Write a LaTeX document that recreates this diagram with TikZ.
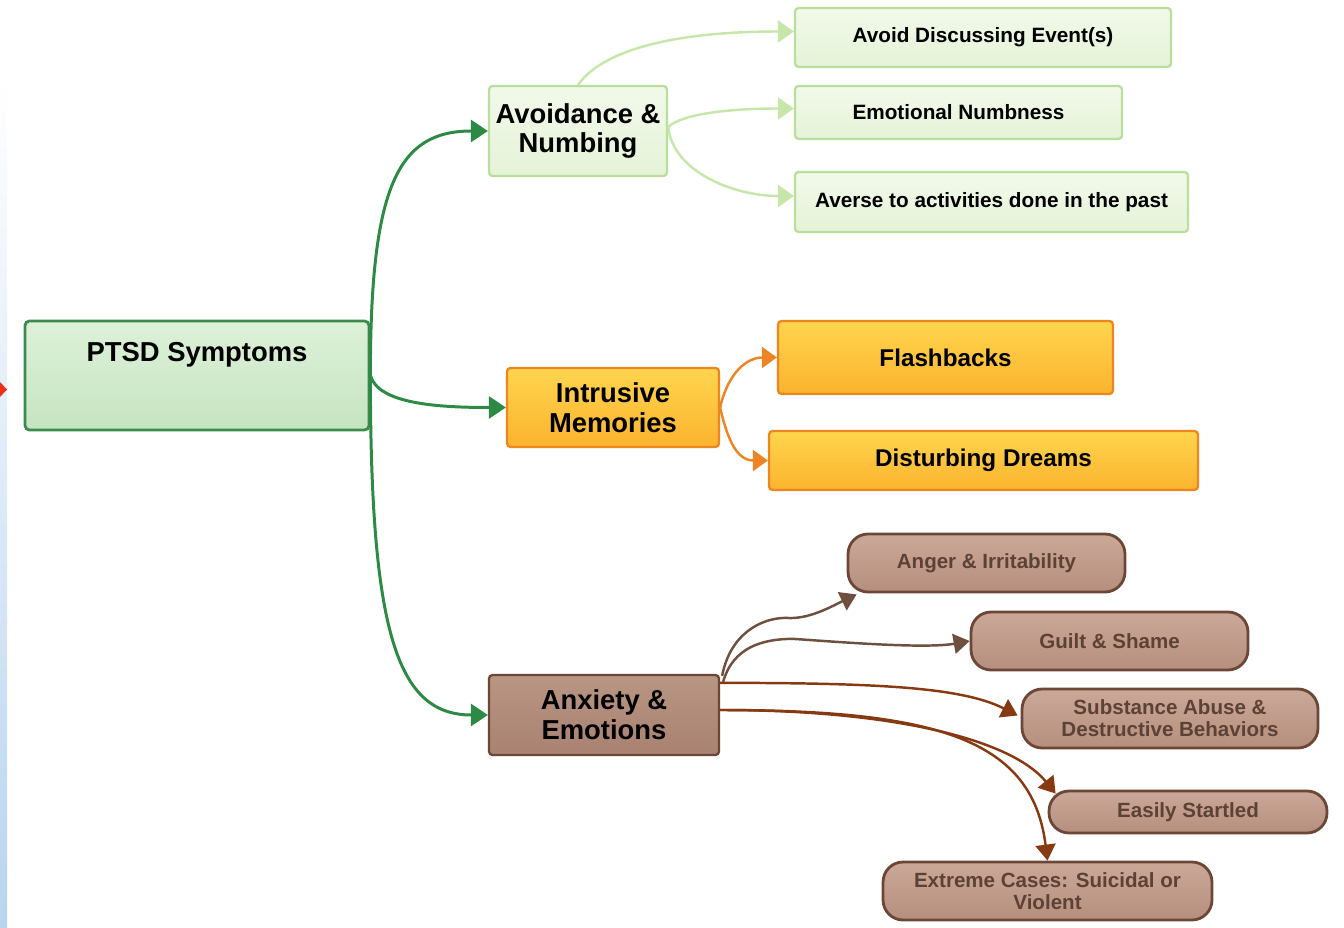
\documentclass[tikz,border=0pt]{standalone}
\usepackage{tikz}
\usetikzlibrary{arrows.meta}
\usetikzlibrary{calc}
\usepackage{xcolor}
\usepackage{fontspec}
\setmainfont{Liberation Sans}

\definecolor{rootgreen}{HTML}{3C8A4E}
\definecolor{rootfilltop}{HTML}{DDF1D8}
\definecolor{rootfillbot}{HTML}{C6E4C1}
\definecolor{greenline}{HTML}{2C8A44}
\definecolor{paleborder}{HTML}{BADF9C}
\definecolor{palefilltop}{HTML}{F2F9EA}
\definecolor{palefillbot}{HTML}{E5F3D8}
\definecolor{paleline}{HTML}{C6E7A9}
\definecolor{orangeborder}{HTML}{EF851F}
\definecolor{orangetop}{HTML}{FFD54E}
\definecolor{orangebot}{HTML}{FBB32E}
\definecolor{orangeline}{HTML}{EE8424}
\definecolor{brownborder}{HTML}{6C4636}
\definecolor{browntop}{HTML}{CAA898}
\definecolor{brownbot}{HTML}{B68F7E}
\definecolor{anxtop}{HTML}{B99584}
\definecolor{anxbot}{HTML}{A98271}
\definecolor{brownline}{HTML}{6F4F3D}
\definecolor{rustline}{HTML}{873A12}
\definecolor{browntext}{HTML}{5C4236}
\definecolor{stripblue}{HTML}{B9D4EE}
\definecolor{stripred}{HTML}{E8301A}

\begin{document}
\begin{tikzpicture}[x=0.02cm, y=0.02cm]
        % ================= styles =================
        \tikzset{
            % big heading boxes
            mainfont/.style={font=\fontsize{15.6}{17}\selectfont\bfseries},
            rootbox/.style={draw=rootgreen, line width=1.6pt, rounded corners=2.5pt, top color=rootfilltop, bottom color=rootfillbot},
            avoidbox/.style={mainfont, align=center, inner xsep=1pt, draw=paleborder, line width=1.3pt, rounded corners=2pt, top color=palefilltop, bottom color=palefillbot},
            intrbox/.style={mainfont, align=center, inner xsep=1pt, draw=orangeborder, line width=1.3pt, rounded corners=2pt, top color=orangetop, bottom color=orangebot},
            anxbox/.style={mainfont, align=center, inner xsep=1pt, draw=brownborder, line width=1.3pt, rounded corners=2pt, top color=anxtop, bottom color=anxbot},
            % leaves
            paleleaf/.style={font=\fontsize{11.8}{13}\selectfont\bfseries, draw=paleborder, line width=1.3pt, rounded corners=2pt, top color=palefilltop, bottom color=palefillbot},
            orangeleaf/.style={font=\fontsize{13.8}{15}\selectfont\bfseries, draw=orangeborder, line width=1.3pt, rounded corners=2pt, top color=orangetop, bottom color=orangebot},
            brownleaf/.style={font=\fontsize{11.7}{12.5}\selectfont\bfseries, text=browntext, align=center, draw=brownborder, line width=1.6pt, rounded corners=0.4cm, top color=browntop, bottom color=brownbot},
            % links
            rootlink/.style={draw=greenline, line width=1.7pt, -{Triangle[length=0.34cm, width=0.44cm]}},
            palelink/.style={draw=paleline, line width=1.4pt, -{Triangle[length=0.32cm, width=0.44cm]}},
            orangelink/.style={draw=orangeline, line width=1.4pt, -{Triangle[length=0.3cm, width=0.42cm]}},
            brownlink/.style={draw=brownline, line width=1.4pt, -{Triangle[length=0.32cm, width=0.4cm]}},
            rustlink/.style={draw=rustline, line width=1.4pt, -{Triangle[length=0.32cm, width=0.4cm]}}
        }

        \useasboundingbox (0,0) rectangle (1344,-928);

        % ================= left window edge =================
        \shade[top color=white, bottom color=stripblue] (0,-80) rectangle (7,-928);
        \fill[stripred] (0,-382) -- (7,-389.5) -- (0,-397) -- cycle;

        % ================= root =================
        \node[rootbox, minimum width=6.88cm, minimum height=2.18cm,
              label={[mainfont, anchor=north, yshift=-0.34cm]north:PTSD Symptoms}] (ptsd) at (197,-375.5) {};

        % ================= three branches =================
        \node[avoidbox, minimum width=3.56cm, minimum height=1.8cm] (avoid) at (578,-131) {Avoidance \&\\Numbing};
        \node[intrbox, minimum width=4.24cm, minimum height=1.58cm] (intr) at (613,-407.5) {Intrusive\\Memories};
        \node[anxbox, minimum width=4.6cm, minimum height=1.6cm] (anx) at (604,-715) {Anxiety \&\\Emotions};

        \draw[rootlink] (ptsd.east) .. controls +(0,190) and +(-90,0) .. (avoid.west);
        \draw[rootlink] (ptsd.east) .. controls +(8,-28) and +(-70,0) .. (intr.west);
        \draw[rootlink] (ptsd.east) .. controls +(0,-260) and +(-90,0) .. (anx.west);

        % ================= avoidance & numbing =================
        \node[paleleaf, minimum width=7.52cm, minimum height=1.18cm] (discuss) at (983,-37.5) {Avoid Discussing Event(s)};
        \node[paleleaf, minimum width=6.54cm, minimum height=1.06cm] (numb) at (958.5,-112.5) {Emotional Numbness};
        \node[paleleaf, minimum width=7.86cm, minimum height=1.2cm] (averse) at (991.5,-202) {Averse to activities done in the past};

        \draw[palelink] (avoid.north) .. controls +(25,35) and +(-120,0) .. ($(discuss.west)+(0,6)$);
        \draw[palelink] ($(avoid.east)+(0,4)$) .. controls +(15,14) and +(-60,0) .. ($(numb.west)+(0,4)$);
        \draw[palelink] ($(avoid.east)+(0,4)$) .. controls +(5,-45) and +(-60,0) .. ($(averse.west)+(0,6)$);

        % ================= intrusive memories =================
        \node[orangeleaf, minimum width=6.7cm, minimum height=1.46cm] (flash) at (945.5,-357.5) {Flashbacks};
        \node[orangeleaf, minimum width=8.58cm, minimum height=1.18cm] (dreams) at (983.5,-460.5) {Disturbing Dreams};

        \draw[orangelink] (intr.east) .. controls +(8,35) and +(-30,0) .. (flash.west);
        \draw[orangelink] (intr.east) .. controls +(8,-35) and +(-30,0) .. (dreams.west);

        % ================= anxiety & emotions =================
        \node[brownleaf, minimum width=5.54cm, minimum height=1.16cm] (anger) at (986.5,-563) {Anger \& Irritability};
        \node[brownleaf, minimum width=5.54cm, minimum height=1.16cm] (guilt) at (1109.5,-641) {Guilt \& Shame};
        \node[brownleaf, minimum width=5.92cm, minimum height=1.18cm] (subst) at (1170,-718.5) {Substance Abuse \&\\Destructive Behaviors};
        \node[brownleaf, minimum width=5.56cm, minimum height=0.84cm] (startled) at (1188,-812) {Easily Startled};
        \node[brownleaf, minimum width=6.58cm, minimum height=1.16cm] (extreme) at (1047.5,-891) {Extreme Cases: Suicidal or\\Violent};

        % wavy ones
        \draw[brownlink] ($(anx.north east)+(2,-2)$) .. controls +(8,42) and +(-25,0) .. ++(64,58)
              .. controls +(22,-2) and +(-25,-12) .. ($(anger.south west)+(10,-1)$);
        \draw[brownlink] ($(anx.north east)+(3,-8)$) .. controls +(10,35) and +(-30,0) .. ++(70,43)
              .. controls +(45,-3) and +(-45,-8) .. (guilt.west);
        % long sweeping ones
        \draw[rustlink] ($(anx.north east)+(0,-9)$) .. controls +(160,0) and +(-55,28) .. ($(subst.west)+(-3,3)$);
        \draw[rustlink] ($(anx.east)+(0,5)$) .. controls +(170,0) and +(-45,55) .. ($(startled.north west)+(8,-4)$);
        \draw[rustlink] ($(anx.east)+(0,5)$) .. controls +(220,0) and +(-15,120) .. (extreme.north);

\end{tikzpicture}
\end{document}
